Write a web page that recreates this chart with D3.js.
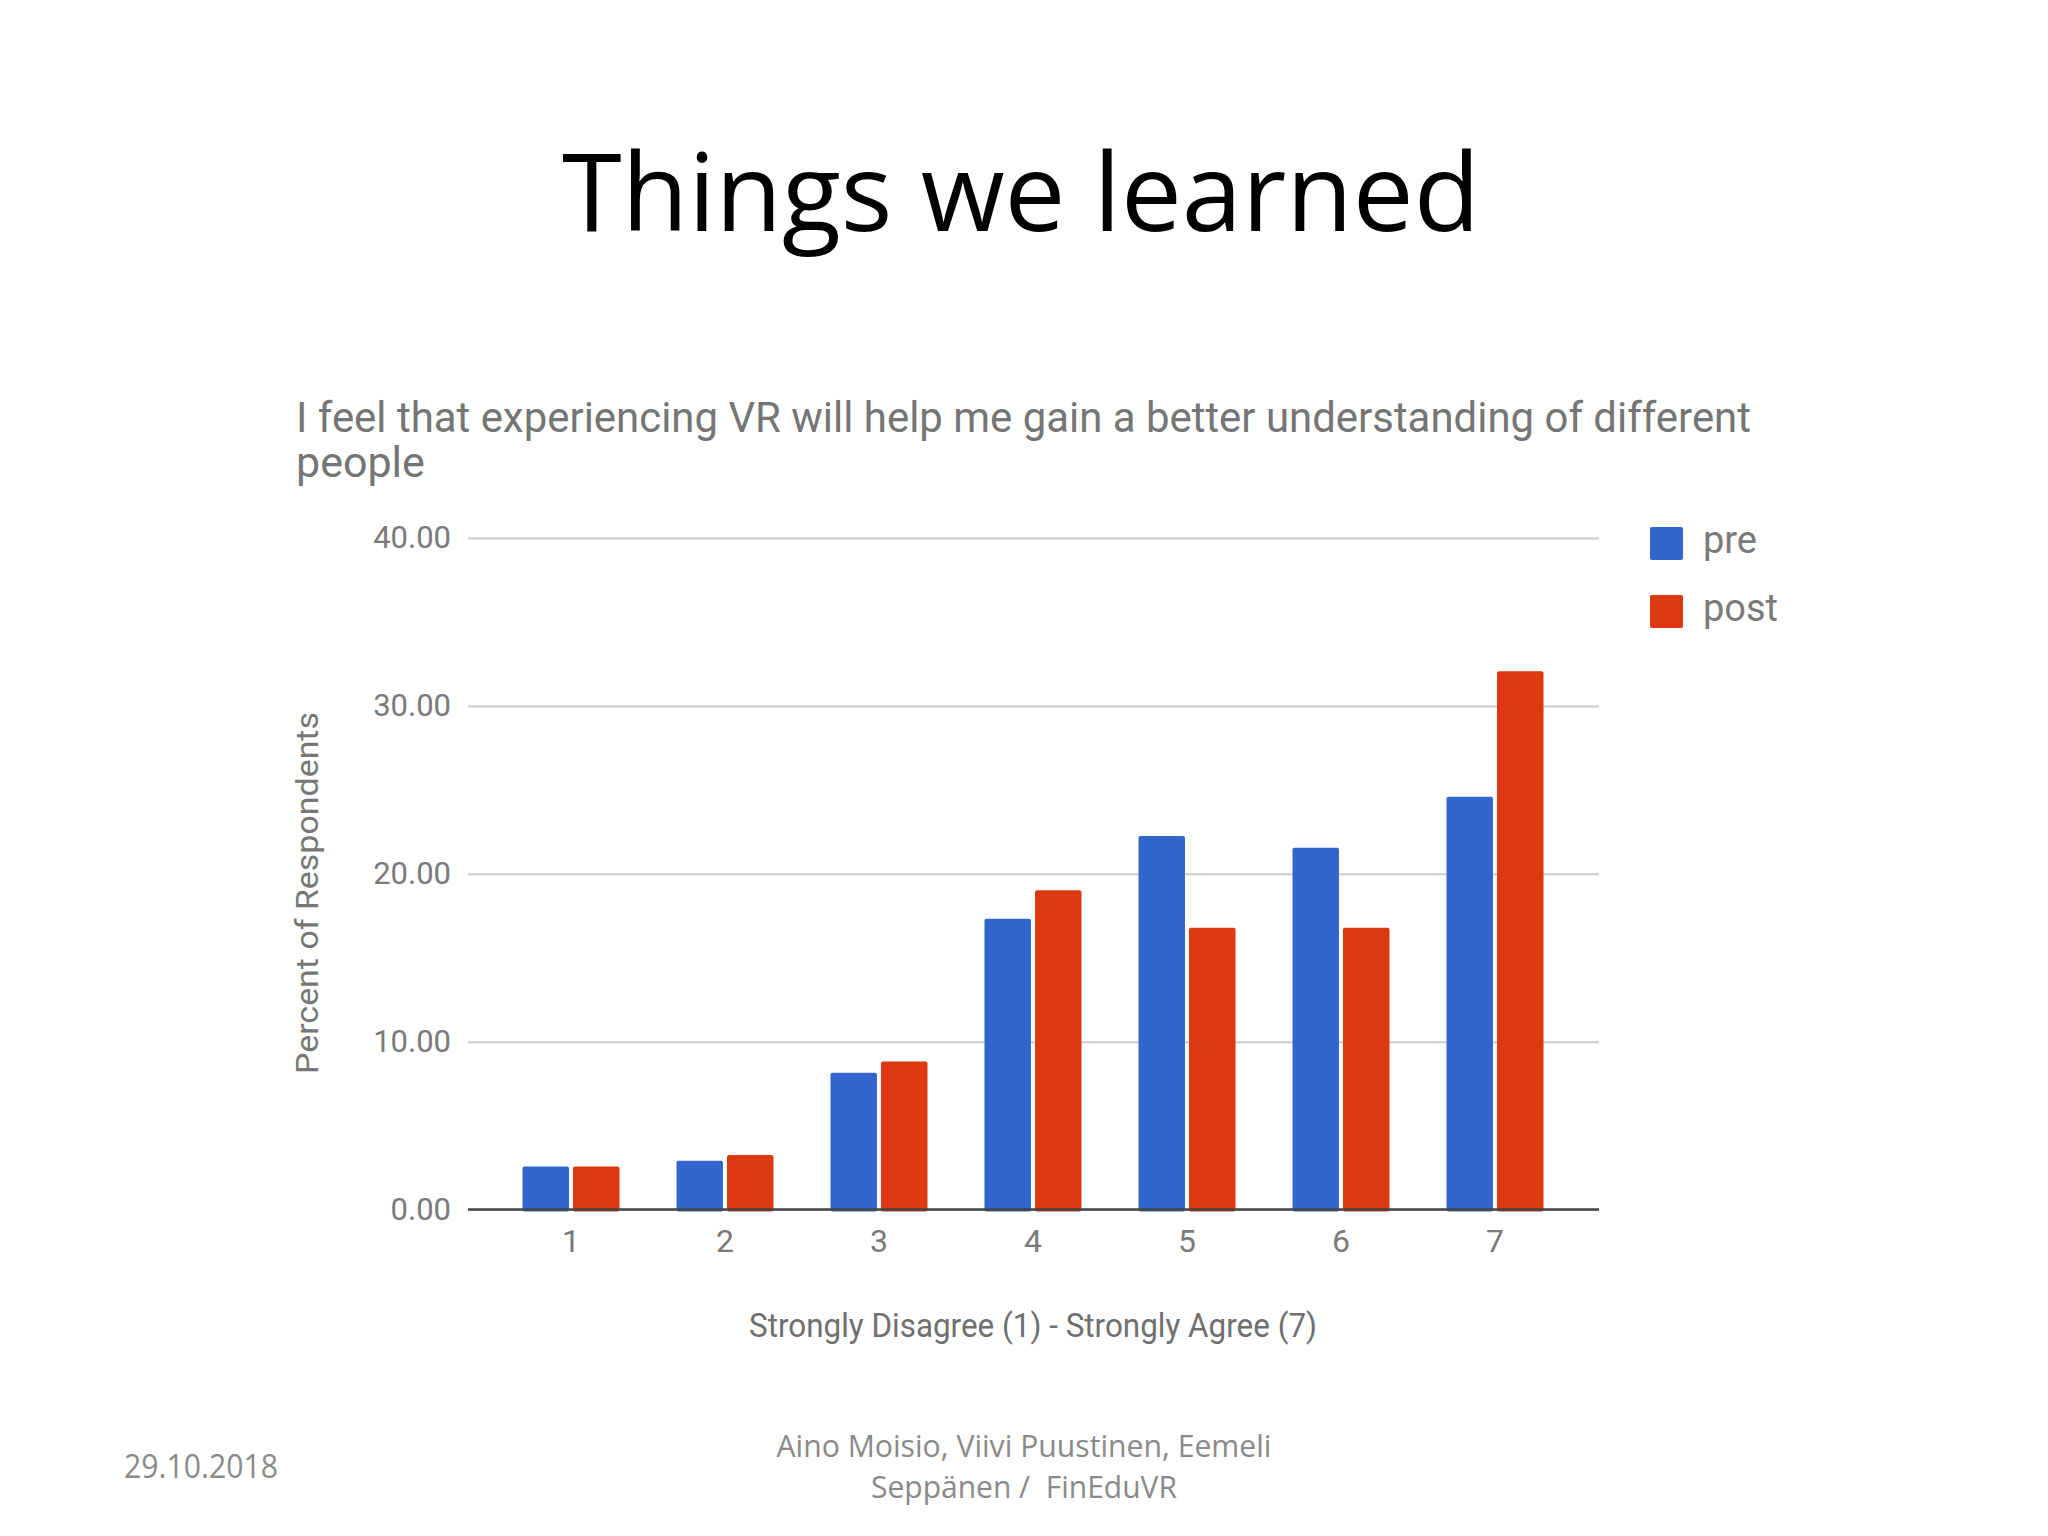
<!DOCTYPE html>
<html>
<head>
<meta charset="utf-8">
<script src="https://cdn.jsdelivr.net/npm/d3@7/dist/d3.min.js"></script>
<style>
  html, body { margin: 0; padding: 0; background: #ffffff; }
  svg { display: block; }
</style>
</head>
<body>
<svg id="chart" width="2048" height="1536"></svg>
<script>
// ---- data ----
const categories = ["1", "2", "3", "4", "5", "6", "7"];
const seriesNames = ["pre", "post"];
const preValues = [2.56, 2.90, 8.14, 17.32, 22.25, 21.55, 24.59];
const postValues = [2.56, 3.24, 8.82, 19.01, 16.79, 16.79, 32.06];
const yTicks = [0, 10, 20, 30, 40];
const slideTitle = "Things we learned";
const chartTitleLines = ["I feel that experiencing VR will help me gain a better understanding of different", "people"];
const yAxisTitle = "Percent of Respondents";
const xAxisTitle = "Strongly Disagree (1) - Strongly Agree (7)";
const footerDate = "29.10.2018";
const footerAuthors = ["Aino Moisio, Viivi Puustinen, Eemeli", "Seppänen /  FinEduVR"];

const colors = { pre: "#3366cc", post: "#dc3912" };
const values = { pre: preValues, post: postValues };

const svg = d3.select("#chart");

// ---- slide title ----
svg.append("text")
  .attr("x", 562).attr("y", 231)
  .attr("font-family", "'Open Sans', 'Noto Sans', sans-serif")
  .attr("font-size", 108)
  .attr("fill", "#000")
  .attr("textLength", 918)
  .attr("lengthAdjust", "spacingAndGlyphs")
  .text(slideTitle);

// ---- chart title ----
const chartFont = "Roboto, 'Noto Sans', sans-serif";
const titleLens = [1455, null];
chartTitleLines.forEach((line, i) => {
  const t = svg.append("text")
    .attr("x", 296).attr("y", 432 + i * 45)
    .attr("font-family", chartFont)
    .attr("font-size", 43)
    .attr("fill", "#757575")
    .text(line);
  if (titleLens[i]) t.attr("textLength", titleLens[i]).attr("lengthAdjust", "spacingAndGlyphs");
});

// ---- scales ----
const plotLeft = 468, plotRight = 1599;
const y = d3.scaleLinear().domain([0, 40]).range([1209.5, 538]);
const x = d3.scaleBand().domain(categories).range([494, 1572]).paddingInner(0.37).paddingOuter(0.185);
const xs = d3.scaleBand().domain(seriesNames).range([0, x.bandwidth()]).paddingInner(0.08);

// ---- gridlines + y axis ----
const yAxis = svg.append("g")
  .attr("transform", `translate(${plotLeft},0)`)
  .call(d3.axisLeft(y).tickValues(yTicks).tickFormat(d3.format(".2f"))
    .tickSize(-(plotRight - plotLeft)).tickPadding(17));
yAxis.select(".domain").remove();
yAxis.selectAll(".tick line").attr("stroke", "#cccccc").attr("stroke-width", 2);
yAxis.selectAll(".tick text")
  .attr("font-family", chartFont).attr("font-size", 31).attr("fill", "#7a7a7a");

// ---- bars ----
const groups = svg.append("g").selectAll("g")
  .data(categories)
  .join("g")
  .attr("transform", d => `translate(${x(d)},0)`);

groups.selectAll("rect")
  .data((d, i) => seriesNames.map(s => ({ s, v: values[s][i] })))
  .join("rect")
  .attr("x", d => xs(d.s))
  .attr("width", xs.bandwidth())
  .attr("y", d => y(d.v))
  .attr("height", d => y(0) - y(d.v) + 2)
  .attr("rx", 2)
  .attr("fill", d => colors[d.s]);

// ---- baseline ----
svg.append("line")
  .attr("x1", plotLeft).attr("x2", plotRight)
  .attr("y1", y(0)).attr("y2", y(0))
  .attr("stroke", "#444444").attr("stroke-width", 2.5);

// ---- x axis labels ----
const xAxis = svg.append("g")
  .attr("transform", `translate(0,${y(0)})`)
  .call(d3.axisBottom(x).tickSize(0).tickPadding(20));
xAxis.select(".domain").remove();
xAxis.selectAll(".tick text")
  .attr("font-family", chartFont).attr("font-size", 32).attr("fill", "#7a7a7a");

// ---- axis titles ----
svg.append("text")
  .attr("transform", "translate(318,893) rotate(-90)")
  .attr("text-anchor", "middle")
  .attr("font-family", chartFont).attr("font-size", 31).attr("fill", "#777777")
  .attr("textLength", 362).attr("lengthAdjust", "spacingAndGlyphs")
  .text(yAxisTitle);

svg.append("text")
  .attr("x", 1033).attr("y", 1337)
  .attr("text-anchor", "middle")
  .attr("font-family", chartFont).attr("font-size", 34).attr("fill", "#6f6f6f")
  .attr("textLength", 568).attr("lengthAdjust", "spacingAndGlyphs")
  .text(xAxisTitle);

// ---- legend ----
const legend = svg.append("g").selectAll("g")
  .data(seriesNames)
  .join("g")
  .attr("transform", (d, i) => `translate(1650,${527 + i * 68})`);
legend.append("rect")
  .attr("width", 33).attr("height", 33).attr("rx", 2)
  .attr("fill", d => colors[d]);
legend.append("text")
  .attr("x", 53).attr("y", 26)
  .attr("font-family", chartFont).attr("font-size", 38).attr("fill", "#7a7a7a")
  .text(d => d);

// ---- footer ----
const footFont = "'Open Sans', 'Noto Sans', sans-serif";
svg.append("text")
  .attr("x", 124).attr("y", 1478)
  .attr("font-family", footFont).attr("font-size", 33).attr("fill", "#8a8a8a")
  .attr("textLength", 154).attr("lengthAdjust", "spacingAndGlyphs")
  .text(footerDate);

const authorLens = [495, 306];
footerAuthors.forEach((line, i) => {
  svg.append("text")
    .attr("x", 1024).attr("y", 1457 + i * 41)
    .attr("text-anchor", "middle")
    .attr("font-family", footFont).attr("font-size", 31).attr("fill", "#8a8a8a")
    .attr("textLength", authorLens[i]).attr("lengthAdjust", "spacingAndGlyphs")
    .attr("xml:space", "preserve")
    .style("white-space", "pre")
    .text(line);
});
</script>
</body>
</html>
